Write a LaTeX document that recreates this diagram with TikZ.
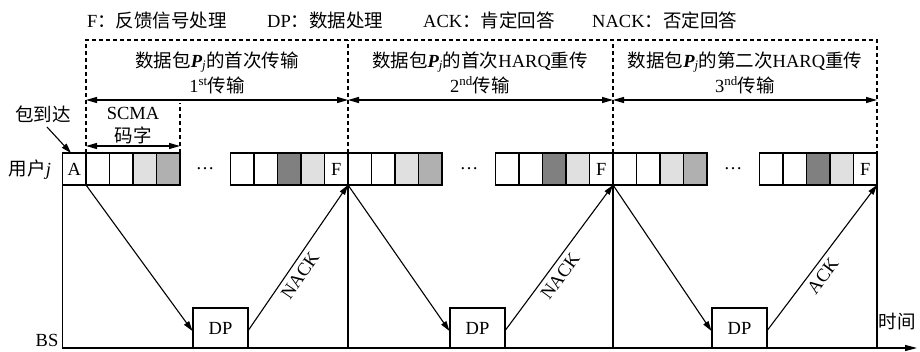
\documentclass[tikz,border=0pt]{standalone}
\usepackage{fontspec}
\setmainfont{Liberation Serif}
\newfontfamily\cjk{Noto Sans CJK SC}
\usetikzlibrary{arrows.meta,calc}
\definecolor{lg}{HTML}{E0E0E0}
\definecolor{mg}{HTML}{B0B0B0}
\definecolor{dg}{HTML}{808080}
\newcommand{\zh}[1]{{\cjk #1}}
\newcommand{\Pj}{{\bfseries\itshape P}\textsubscript{\itshape j}}
\begin{document}
\begin{tikzpicture}[x=1pt,y=-1pt,font=\fontsize{18.5}{21}\selectfont,
  cell/.style={draw, line width=1.1pt, minimum width=23.5pt, minimum height=32pt, inner sep=0pt, outer sep=0pt, anchor=north west},
  frame/.style={draw, line width=1.8pt},
  conn/.style={line width=1.1pt, -{Triangle[length=10pt,width=6pt]}},
  spanarrow/.style={line width=1.1pt, {Triangle[length=11pt,width=6pt]}-{Triangle[length=11pt,width=6pt]}},
  dsh/.style={line width=1.3pt, dash pattern=on 4pt off 3pt},
  dpbox/.style={draw, line width=1.1pt, minimum width=55pt, minimum height=40pt, inner sep=0pt, fill=white},
  lbl/.style={inner sep=0pt}]
\useasboundingbox (0,0) rectangle (920,351);

% legend
\node[lbl, anchor=west] (leg1) at (87,20) {F\zh{：反馈信号处理}};
\node[lbl, anchor=west] (leg2) at (267,20) {DP\zh{：数据处理}};
\node[lbl, anchor=west] (leg3) at (423,20) {ACK\zh{：肯定回答}};
\node[lbl, anchor=west] (leg4) at (592,20) {NACK\zh{：否定回答}};

% cells
\foreach \i/\f/\t in {1/white/A,2/white/{},3/white/{},4/lg/{},5/mg/{}}
  \node[cell, fill=\f] (g1-\i) at (62.5+23.5*\i-23.5,153) {\t};
\foreach \i/\f/\t in {1/white/{},2/white/{},3/dg/{},4/lg/{},5/white/F,6/white/{},7/white/{},8/lg/{},9/mg/{}}
  \node[cell, fill=\f] (g2-\i) at (230.5+23.5*\i-23.5,153) {\t};
\foreach \i/\f/\t in {1/white/{},2/white/{},3/dg/{},4/lg/{},5/white/F,6/white/{},7/white/{},8/lg/{},9/mg/{}}
  \node[cell, fill=\f] (g3-\i) at (495.5+23.5*\i-23.5,153) {\t};
\foreach \i/\f/\t in {1/white/{},2/white/{},3/dg/{},4/lg/{},5/white/F}
  \node[cell, fill=\f] (g4-\i) at (759.5+23.5*\i-23.5,153) {\t};
\draw[frame] (g1-1.north west) rectangle (g1-5.south east);
\draw[frame] (g2-1.north west) rectangle (g2-9.south east);
\draw[frame] (g3-1.north west) rectangle (g3-9.south east);
\draw[frame] (g4-1.north west) rectangle (g4-5.south east);

\node[lbl] (dots1) at (205,169) {\ldots};
\node[lbl] (dots2) at (469,169) {\ldots};
\node[lbl] (dots3) at (733,169) {\ldots};

% labels left
\node[lbl] (arr) at (43,114) {\zh{包到达}};
\coordinate (arrtail) at (47,127);
\draw[conn] (arrtail) -- ($(g1-1.north west)+(8.5,0)$);
\node[lbl] (user) at (30,170) {\zh{用户}\textit{j}};
\node[lbl] (bs) at (47,340) {BS};
\node[lbl] (time) at (897,322) {\zh{时间}};

% coordinates
\coordinate (ax0) at (62.5,348);
\coordinate (axend) at (917,348);
\coordinate (top) at (86,40);
\coordinate (sp) at (86,100);
\coordinate (sc) at (86,146);
\coordinate (scd) at (86,103);

% time axis and verticals
\draw[line width=1.1pt, -{Triangle[length=12pt,width=6pt]}] (g1-1.south west) -- (ax0) -- (axend);
\draw[line width=1.1pt] (g2-5.south east) -- (g2-5.south east |- ax0);
\draw[line width=1.1pt] (g3-5.south east) -- (g3-5.south east |- ax0);
\draw[line width=1.1pt] (g4-5.south east) -- (g4-5.south east |- ax0);

% dashed frame
\draw[dsh] (g1-1.north east) -- (g1-1.north east |- top) -- (g4-5.north east |- top) -- (g4-5.north east);
\draw[dsh] (g2-5.north east) -- (g2-5.north east |- top);
\draw[dsh] (g3-5.north east) -- (g3-5.north east |- top);
\draw[dsh] (g1-5.north east) -- (g1-5.north east |- scd);

% span arrows
\draw[spanarrow] (g1-1.north east |- sp) -- (g2-5.north east |- sp);
\draw[spanarrow] (g2-5.north east |- sp) -- (g3-5.north east |- sp);
\draw[spanarrow] (g3-5.north east |- sp) -- (g4-5.north east |- sp);
\draw[spanarrow] (g1-1.north east |- sc) -- (g1-5.north east |- sc);

% titles
\node[lbl] (t1a) at (217,62) {\zh{数据包}\Pj\zh{的首次传输}};
\node[lbl] (t1b) at (217,85) {1\textsuperscript{st}\zh{传输}};
\node[lbl] (t2a) at (480,62) {\zh{数据包}\Pj\zh{的首次}HARQ\zh{重传}};
\node[lbl] (t2b) at (480,85) {2\textsuperscript{nd}\zh{传输}};
\node[lbl] (t3a) at (745,62) {\zh{数据包}\Pj\zh{的第二次}HARQ\zh{重传}};
\node[lbl] (t3b) at (745,85) {3\textsuperscript{nd}\zh{传输}};
\node[lbl] (scma) at (133,113) {SCMA};
\node[lbl] (mz) at (133,135) {\zh{码字}};

% DP boxes
\node[dpbox] (dp1) at (220.5,328) {DP};
\node[dpbox] (dp2) at (477.5,328) {DP};
\node[dpbox] (dp3) at (739.5,328) {DP};

% connectors
\draw[conn] (g1-1.south east) -- ($(dp1.west)+(0,3)$);
\draw[conn] ($(dp1.east)+(0,2)$) -- node[sloped, below=5pt, pos=0.42, lbl] {NACK} (g2-5.south east);
\draw[conn] (g2-5.south east) -- ($(dp2.west)+(0,3)$);
\draw[conn] ($(dp2.east)+(0,2)$) -- node[sloped, below=5pt, pos=0.42, lbl] {NACK} (g3-5.south east);
\draw[conn] (g3-5.south east) -- ($(dp3.west)+(0,3)$);
\draw[conn] ($(dp3.east)+(0,2)$) -- node[sloped, below=5pt, pos=0.42, lbl] {ACK} (g4-5.south east);
\end{tikzpicture}
\end{document}
